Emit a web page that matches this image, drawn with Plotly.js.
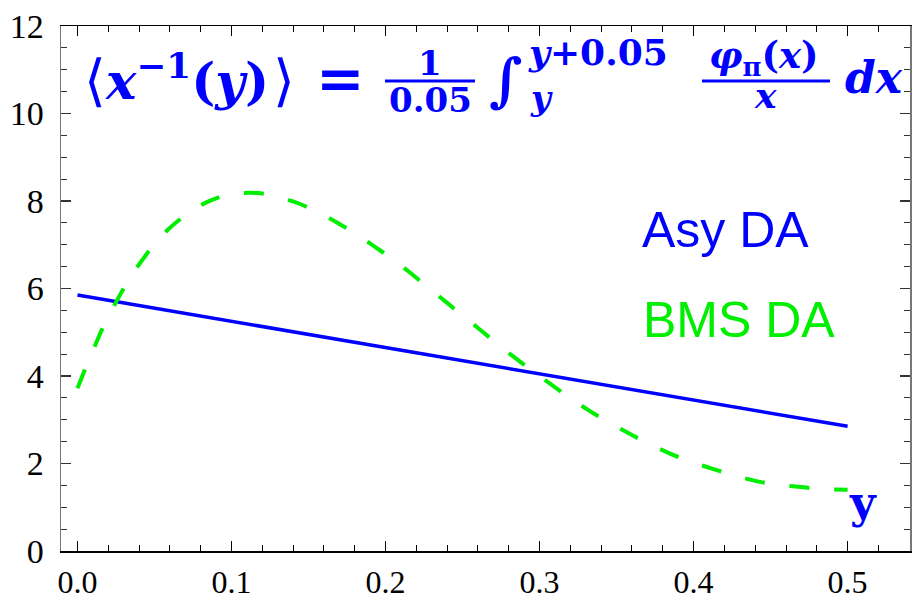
<!DOCTYPE html>
<html><head><meta charset="utf-8">
<script src="https://cdn.plot.ly/plotly-3.0.1.min.js"></script>
<style>html,body{margin:0;padding:0;background:#fff}</style>
</head><body><div id="chart" style="width:912px;height:602px"></div>
<script>
// ---- data ----
const asyX = [0, 0.1, 0.2, 0.3, 0.4, 0.5];
const asyY = [5.85, 5.25, 4.65, 4.05, 3.45, 2.85];
const bmsX = [0, 0.005, 0.011, 0.016, 0.024, 0.030, 0.039, 0.047, 0.058, 0.068, 0.082, 0.094, 0.111, 0.124, 0.140, 0.152, 0.167, 0.178, 0.192, 0.203, 0.216, 0.226, 0.239, 0.249, 0.262, 0.272, 0.285, 0.296, 0.309, 0.320, 0.334, 0.345, 0.360, 0.371, 0.387, 0.398, 0.415, 0.427, 0.443, 0.456, 0.473, 0.485, 0.500];
const bmsY = [3.72, 4.16, 4.66, 5.07, 5.62, 6.00, 6.50, 6.88, 7.32, 7.62, 7.94, 8.11, 8.19, 8.15, 7.99, 7.82, 7.54, 7.31, 6.98, 6.71, 6.36, 6.07, 5.70, 5.41, 5.04, 4.75, 4.39, 4.10, 3.77, 3.49, 3.17, 2.94, 2.65, 2.45, 2.19, 2.04, 1.85, 1.72, 1.58, 1.51, 1.45, 1.41, 1.40];
const seriesNames = ['Asy DA', 'BMS DA'];
const xTickVals = [0, 0.1, 0.2, 0.3, 0.4, 0.5];
const xTickText = ['0.0', '0.1', '0.2', '0.3', '0.4', '0.5'];
const yTickVals = [0, 2, 4, 6, 8, 10, 12];
const yTickText = ['0', '2', '4', '6', '8', '10', '12'];
const xLabel = 'y';
const formula = {
  lbr: '⟨', rbr: '⟩',
  lhs: '<i>x</i><sup>−1</sup>(<i>y</i>)',
  eq: '=',
  num1: '1', den1: '0.05',
  integral: '∫',
  upper: '<i>y</i>+0.05', lower: '<i>y</i>',
  num2: '<i>φ</i><sub>π</sub>(<i>x</i>)', den2: '<i>x</i>',
  dx: '<i>dx</i>'
};

// ---- layout helpers (plot-area pixel frame) ----
const W = 912, H = 602, L = 61, R = 910, T = 26, B = 551;
const px = x => (x - L) / (R - L);
const py = y => (B - y) / (B - T);
const BLUE = '#0000ff', GREEN = '#00ee00';
const MATH = 'DejaVu Serif';
function ann(text, x, base, size, xanchor, opts) {
  opts = opts || {};
  return {
    text: opts.bold === false ? text : '<b>' + text + '</b>',
    x: px(x), y: py(base - 0.35 * size), xref: 'paper', yref: 'paper',
    xanchor: xanchor, yanchor: 'middle', showarrow: false,
    font: {family: opts.family || MATH, size: size, color: opts.color || BLUE}
  };
}

const traces = [
  {x: asyX, y: asyY, name: seriesNames[0], mode: 'lines', type: 'scatter',
   line: {color: BLUE, width: 3.5}},
  {x: bmsX, y: bmsY, name: seriesNames[1], mode: 'lines', type: 'scatter',
   line: {color: GREEN, width: 4, dash: '20px,25px', shape: 'spline', smoothing: 0.6}}
];

const layout = {
  width: W, height: H,
  margin: {l: L, r: W - R, t: T, b: H - B, pad: 0},
  paper_bgcolor: '#fff', plot_bgcolor: '#fff',
  showlegend: false,
  xaxis: {
    range: [-0.0107, 0.5405], tickvals: xTickVals, ticktext: xTickText,
    ticks: 'inside', ticklen: 10, tickwidth: 1.2, tickcolor: '#000',
    minor: {dtick: 0.02, tick0: 0, ticks: 'inside', ticklen: 6, tickwidth: 1, tickcolor: '#000'},
    showline: true, linecolor: '#000', linewidth: 1.5, mirror: 'ticks',
    showgrid: false, zeroline: false,
    tickfont: {family: 'Liberation Serif', size: 32, color: '#000'}, ticklabelstandoff: 2
  },
  yaxis: {
    range: [0, 12], tickvals: yTickVals, ticktext: yTickText,
    ticks: 'inside', ticklen: 10, tickwidth: 1.2, tickcolor: '#333',
    minor: {dtick: 0.5, tick0: 0, ticks: 'inside', ticklen: 6, tickwidth: 1, tickcolor: '#333'},
    showline: true, linecolor: '#777', linewidth: 1.5, mirror: 'ticks',
    showgrid: false, zeroline: false,
    tickfont: {family: 'Liberation Serif', size: 34, color: '#000'}, ticklabelstandoff: 9
  },
  annotations: [
    ann(formula.lbr, 95, 100, 56, 'center', {bold: false}),
    ann(formula.lhs, 103, 95, 51, 'left'),
    ann(formula.rbr, 284, 100, 56, 'center', {bold: false}),
    ann(formula.eq, 340, 99, 58, 'center'),
    ann(formula.num1, 430, 75, 34, 'center'),
    ann(formula.den1, 430, 112, 34, 'center'),
    ann(formula.integral, 506, 100, 58, 'center'),
    ann(formula.upper, 526, 65, 36, 'left'),
    ann(formula.lower, 528, 110, 34, 'left'),
    ann(formula.num2, 764, 70, 37, 'center'),
    ann(formula.den2, 765, 108, 36, 'center'),
    ann(formula.dx, 843, 93, 44, 'left'),
    ann(xLabel, 863, 518, 44, 'center'),
    ann(seriesNames[0], 640, 248, 50, 'left', {family: 'Liberation Sans', bold: false}),
    ann(seriesNames[1], 641, 337, 50, 'left', {family: 'Liberation Sans', bold: false, color: GREEN})
  ],
  shapes: [
    {type: 'line', xref: 'paper', yref: 'paper', x0: px(385), x1: px(475), y0: py(81), y1: py(81), line: {color: BLUE, width: 3}},
    {type: 'line', xref: 'paper', yref: 'paper', x0: px(702), x1: px(830), y0: py(81), y1: py(81), line: {color: BLUE, width: 3}}
  ]
};

Plotly.newPlot('chart', traces, layout, {displayModeBar: false, staticPlot: true});
</script>
</body></html>
